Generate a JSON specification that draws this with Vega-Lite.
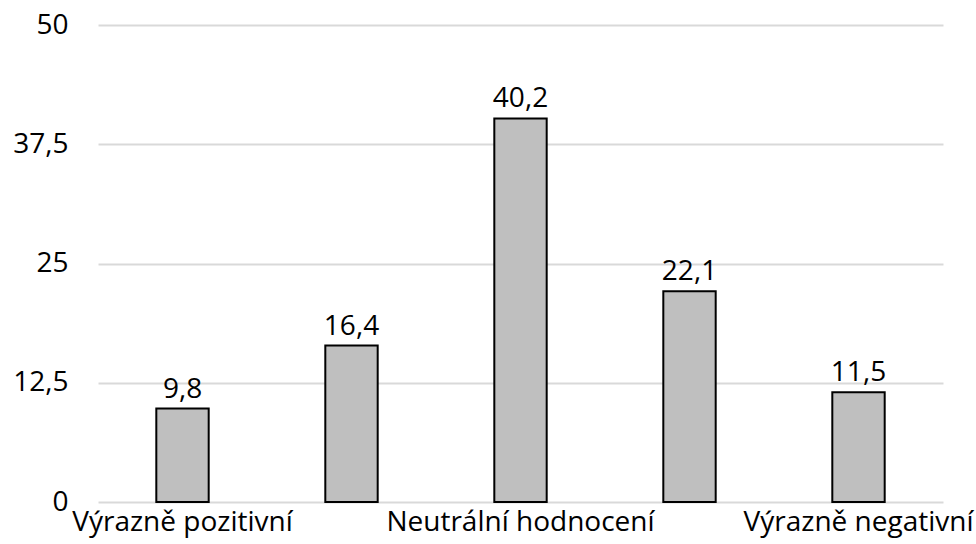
{
  "$schema": "https://vega.github.io/schema/vega-lite/v6.json",
  "autosize": "none",
  "width": 845,
  "height": 477,
  "padding": {"left": 98, "top": 25, "right": 33, "bottom": 42},
  "background": "white",
  "config": {
    "view": {"stroke": null},
    "font": "Open Sans",
    "locale": {"number": {"decimal": ",", "thousands": " ", "grouping": [3], "currency": ["", " Kč"]}}
  },
  "data": {
    "values": [
      {"kategorie": "Výrazně pozitivní", "hodnota": 9.8},
      {"kategorie": " ", "hodnota": 16.4},
      {"kategorie": "Neutrální hodnocení", "hodnota": 40.2},
      {"kategorie": "  ", "hodnota": 22.1},
      {"kategorie": "Výrazně negativní", "hodnota": 11.5}
    ]
  },
  "encoding": {
    "x": {
      "field": "kategorie",
      "type": "nominal",
      "sort": null,
      "scale": {"paddingInner": 0.69, "paddingOuter": 0.345},
      "axis": {
        "title": null,
        "domain": false,
        "ticks": false,
        "labelAngle": 0,
        "labelFont": "Open Sans",
        "labelFontSize": 28,
        "labelColor": "#000000",
        "labelPadding": 6,
        "labelOverlap": false,
        "labelBound": false,
        "labelLimit": 0
      }
    },
    "y": {
      "field": "hodnota",
      "type": "quantitative",
      "scale": {"domain": [0, 50], "nice": false},
      "axis": {
        "title": null,
        "values": [0, 12.5, 25, 37.5, 50],
        "format": ".1~f",
        "domain": false,
        "ticks": false,
        "grid": true,
        "gridColor": "#d9d9d9",
        "gridWidth": 2,
        "labelFont": "Open Sans",
        "labelFontSize": 28,
        "labelColor": "#000000",
        "labelPadding": 30
      }
    }
  },
  "layer": [
    {
      "mark": {"type": "bar", "color": "#bfbfbf", "stroke": "#000000", "strokeWidth": 2}
    },
    {
      "mark": {"type": "text", "baseline": "bottom", "dy": -5, "fontSize": 28, "font": "Open Sans", "color": "#000000"},
      "encoding": {
        "text": {"field": "hodnota", "type": "quantitative", "format": ".1f"}
      }
    }
  ]
}
